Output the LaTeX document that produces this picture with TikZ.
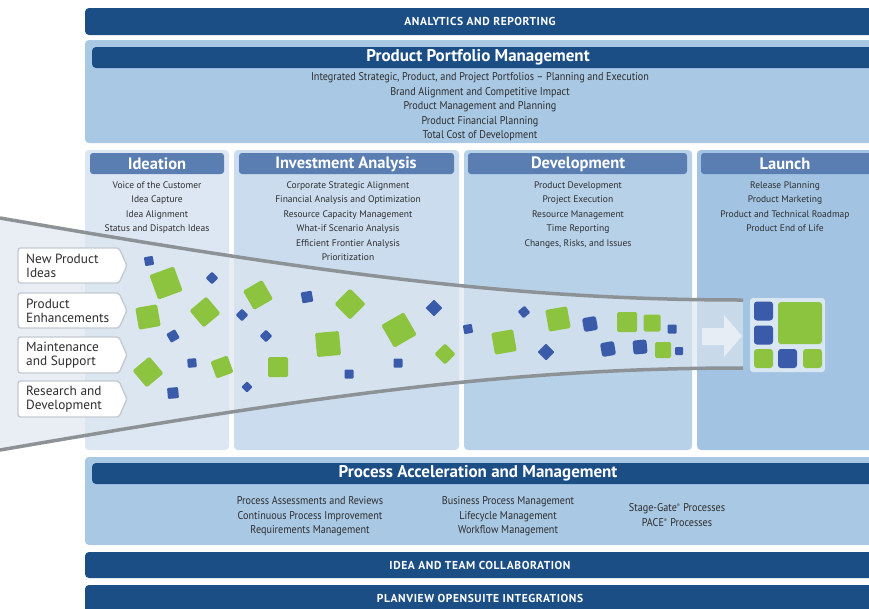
\documentclass[tikz,border=0pt]{standalone}
\usepackage{fontspec}
\setmainfont{PT Sans}
\newfontfamily\cond[FakeStretch=0.9]{PT Sans}
\newfontfamily\capsfont[LetterSpace=5]{PT Sans}
\usetikzlibrary{shapes.geometric}
\definecolor{navy}{HTML}{1C4E86}
\definecolor{panelblue}{HTML}{A9C8E4}
\definecolor{colA}{HTML}{DCE7F3}
\definecolor{colB}{HTML}{CADCEE}
\definecolor{colC}{HTML}{B7D1E9}
\definecolor{colD}{HTML}{A2C3E2}
\definecolor{hdrblue}{HTML}{5A7DB2}
\definecolor{funnelgray}{HTML}{8D9297}
\definecolor{funnelfill}{HTML}{DDE6EF}
\definecolor{sqgreen}{HTML}{8CC43F}
\definecolor{sqblue}{HTML}{3A5BA9}
\definecolor{txtgray}{HTML}{2E2E2E}
\definecolor{lblborder}{HTML}{C5CAD0}
\begin{document}
\begin{tikzpicture}[x=1pt,y=-1pt,
  box/.style={anchor=north west, inner sep=0, outer sep=0, rounded corners=4pt},
  darkbar/.style={box, fill=navy},
  panel/.style={box, fill=panelblue},
  hdr/.style={box, fill=hdrblue, rounded corners=3pt},
  captext/.style={text=white, font=\capsfont\bfseries\fontsize{11.5}{13}\selectfont, inner sep=0},
  titletext/.style={text=white, font=\bfseries\fontsize{17}{19}\selectfont, inner sep=0},
  hdrtext/.style={text=white, font=\bfseries\fontsize{16.5}{18}\selectfont, inner sep=0},
  items/.style={text=txtgray, align=center, anchor=north, inner sep=0, font=\fontsize{9.5}{14.5}\selectfont},
  conditems/.style={text=txtgray, align=center, anchor=north, inner sep=0, font=\cond\fontsize{11.3}{14.5}\selectfont},
  lbltext/.style={text=txtgray, align=left, anchor=west, inner sep=0, font=\fontsize{13.3}{13.5}\selectfont},
  lblbox/.style={fill=white, draw=lblborder, line width=1.4pt, rounded corners=2.5pt},
  gsq/.style={fill=sqgreen, inner sep=0, rounded corners=1.5pt},
  bsq/.style={fill=sqblue, inner sep=0, rounded corners=1pt},
  fline/.style={draw=funnelgray, line width=3.5pt},
]
\clip (0,0) rectangle (869,608);
\fill[white] (0,0) rectangle (869,608);

% top bars
\node[darkbar, minimum width=800, minimum height=27] (ana) at (85,8) {};
\node[captext] (anat) at (480,21.5) {ANALYTICS AND REPORTING};

\node[panel, minimum width=800, minimum height=103] (ppm) at (85,40) {};
\node[darkbar, minimum width=790, minimum height=21] (ppmbar) at (92,47) {};
\node[titletext] (ppmt) at (478,57.5) {Product Portfolio Management};
\node[conditems] (ppmi) at (480,72.5) {Integrated Strategic, Product, and Project Portfolios – Planning and Execution\\Brand Alignment and Competitive Impact\\Product Management and Planning\\Product Financial Planning\\Total Cost of Development};

% columns
\node[box, fill=colA, minimum width=144, minimum height=300] (c1) at (85,150) {};
\node[box, fill=colB, minimum width=225, minimum height=300] (c2) at (234,150) {};
\node[box, fill=colC, minimum width=228, minimum height=300] (c3) at (464,150) {};
\node[box, fill=colD, minimum width=190, minimum height=300] (c4) at (697,150) {};

\node[hdr, minimum width=134, minimum height=21] (h1) at (90,153) {};
\node[hdr, minimum width=215, minimum height=21] (h2) at (239,153) {};
\node[hdr, minimum width=219, minimum height=21] (h3) at (468,153) {};
\node[hdr, minimum width=190, minimum height=21] (h4) at (701,153) {};
\node[hdrtext] (h1t) at (157,164) {Ideation};
\node[hdrtext] (h2t) at (346,164) {Investment Analysis};
\node[hdrtext] (h3t) at (578,164) {Development};
\node[hdrtext] (h4t) at (785,164) {Launch};

\node[items] (i1) at (157,181.5) {Voice of the Customer\\Idea Capture\\Idea Alignment\\Status and Dispatch Ideas};
\node[items] (i2) at (348,181.5) {Corporate Strategic Alignment\\Financial Analysis and Optimization\\Resource Capacity Management\\What-if Scenario Analysis\\Efficient Frontier Analysis\\Prioritization};
\node[items] (i3) at (578,181.5) {Product Development\\Project Execution\\Resource Management\\Time Reporting\\Changes, Risks, and Issues};
\node[items] (i4) at (785,181.5) {Release Planning\\Product Marketing\\Product and Technical Roadmap\\Product End of Life};

% funnel
\fill[funnelfill, opacity=0.65] (0,218) .. controls (330,275) and (520,300) .. (743,300)
  -- (743,368) .. controls (520,368) and (330,393) .. (0,450) -- cycle;
\draw[fline] (0,218) .. controls (330,275) and (520,300) .. (743,300);
\draw[fline] (0,450) .. controls (330,393) and (520,368) .. (743,368);

% left labels
\foreach \ya/\yb in {248/283, 293/328, 337/373, 381/417}{
  \draw[lblbox] (18,\ya) -- (119,\ya) -- (127,{(\ya+\yb)/2}) -- (119,\yb) -- (18,\yb) -- cycle;
}
\node[lbltext] (l1) at (26,266) {New Product\\Ideas};
\node[lbltext] (l2) at (26,311) {Product\\Enhancements};
\node[lbltext] (l3) at (26,355) {Maintenance\\and Support};
\node[lbltext] (l4) at (26,399) {Research and\\Development};

% squares
\node[bsq, minimum size=9, rotate=10] (b1) at (149,261) {};
\node[bsq, minimum size=9, rotate=45] (b2) at (212,278) {};
\node[bsq, minimum size=9, rotate=45] (b3) at (242,315) {};
\node[bsq, minimum size=10, rotate=30] (b4) at (173,336) {};
\node[bsq, minimum size=9, rotate=45] (b5) at (266,336) {};
\node[bsq, minimum size=9, rotate=5] (b6) at (192,363) {};
\node[bsq, minimum size=8, rotate=45] (b7) at (247,387) {};
\node[bsq, minimum size=11, rotate=5] (b8) at (173,393) {};
\node[bsq, minimum size=11, rotate=10] (b9) at (307,297) {};
\node[bsq, minimum size=12, rotate=45] (b10) at (434,308) {};
\node[bsq, minimum size=9, rotate=10] (b11) at (468,329) {};
\node[bsq, minimum size=9] (b12) at (398,363) {};
\node[bsq, minimum size=9] (b13) at (349,374) {};
\node[bsq, minimum size=9, rotate=40] (b14) at (524,312) {};
\node[bsq, minimum size=12, rotate=45] (b15) at (546,352) {};
\node[bsq, minimum size=14, rotate=10, rounded corners=2.5pt] (b16) at (590,324) {};
\node[bsq, minimum size=9] (b17) at (672,329) {};
\node[bsq, minimum size=14, rotate=10, rounded corners=2.5pt] (b18) at (608,349) {};
\node[bsq, minimum size=14, rotate=5, rounded corners=2.5pt] (b19) at (640,347) {};
\node[bsq, minimum size=8] (b20) at (679,351) {};

\node[gsq, minimum size=26, rotate=20] (g1) at (166,283) {};
\node[gsq, minimum size=22, rotate=10] (g2) at (148,317) {};
\node[gsq, minimum size=22, rotate=40] (g3) at (205,312) {};
\node[gsq, minimum size=22, rotate=30] (g4) at (258,295) {};
\node[gsq, minimum size=22, rotate=40] (g5) at (148,372) {};
\node[gsq, minimum size=18, rotate=20] (g6) at (222,367) {};
\node[gsq, minimum size=20] (g7) at (278,367) {};
\node[gsq, minimum size=22, rotate=45] (g8) at (350,304) {};
\node[gsq, minimum size=26, rotate=30] (g9) at (399,330) {};
\node[gsq, minimum size=24, rotate=5] (g10) at (328,344) {};
\node[gsq, minimum size=15, rotate=45] (g11) at (445,354) {};
\node[gsq, minimum size=22, rotate=10] (g12) at (558,319) {};
\node[gsq, minimum size=22, rotate=10] (g13) at (504,342) {};
\node[gsq, minimum size=20] (g14) at (627,322) {};
\node[gsq, minimum size=17] (g15) at (652,323) {};
\node[gsq, minimum size=16] (g16) at (663,350) {};

% arrow
\fill[white, opacity=0.55] (702,328) -- (724,328) -- (724,315) -- (742,336) -- (724,357) -- (724,345) -- (702,345) -- cycle;

% launch grid
\node[box, fill=white, opacity=0.6, minimum width=75, minimum height=74, rounded corners=3pt] (grid) at (750,298) {};
\node[bsq, minimum size=19, rounded corners=3pt] (q1) at (763.5,311) {};
\node[bsq, minimum size=19, rounded corners=3pt] (q2) at (763.5,335) {};
\node[gsq, minimum width=44, minimum height=42, rounded corners=3pt] (q3) at (800,323) {};
\node[gsq, minimum size=19, rounded corners=3pt] (q4) at (763.5,358.5) {};
\node[bsq, minimum size=19, rounded corners=3pt] (q5) at (787.5,358.5) {};
\node[gsq, minimum size=19, rounded corners=3pt] (q6) at (812.5,358.5) {};

% process acceleration
\node[panel, minimum width=800, minimum height=88] (pam) at (85,457) {};
\node[darkbar, minimum width=790, minimum height=21] (pambar) at (92,463) {};
\node[titletext] (pamt) at (478,473.5) {Process Acceleration and Management};
\node[conditems] (p1) at (310,496.5) {Process Assessments and Reviews\\Continuous Process Improvement\\Requirements Management};
\node[conditems] (p2) at (508,496.5) {Business Process Management\\Lifecycle Management\\Workflow Management};
\node[conditems] (p3) at (677,503.5) {Stage-Gate\textsuperscript{\tiny®} Processes\\PACE\textsuperscript{\tiny®} Processes};

% bottom bars
\node[darkbar, minimum width=800, minimum height=26] (itc) at (85,552) {};
\node[captext] (itct) at (480,565) {IDEA AND TEAM COLLABORATION};
\node[darkbar, minimum width=800, minimum height=30] (pos) at (85,585) {};
\node[captext] (post) at (480,598.5) {PLANVIEW OPENSUITE INTEGRATIONS};
\end{tikzpicture}
\end{document}
